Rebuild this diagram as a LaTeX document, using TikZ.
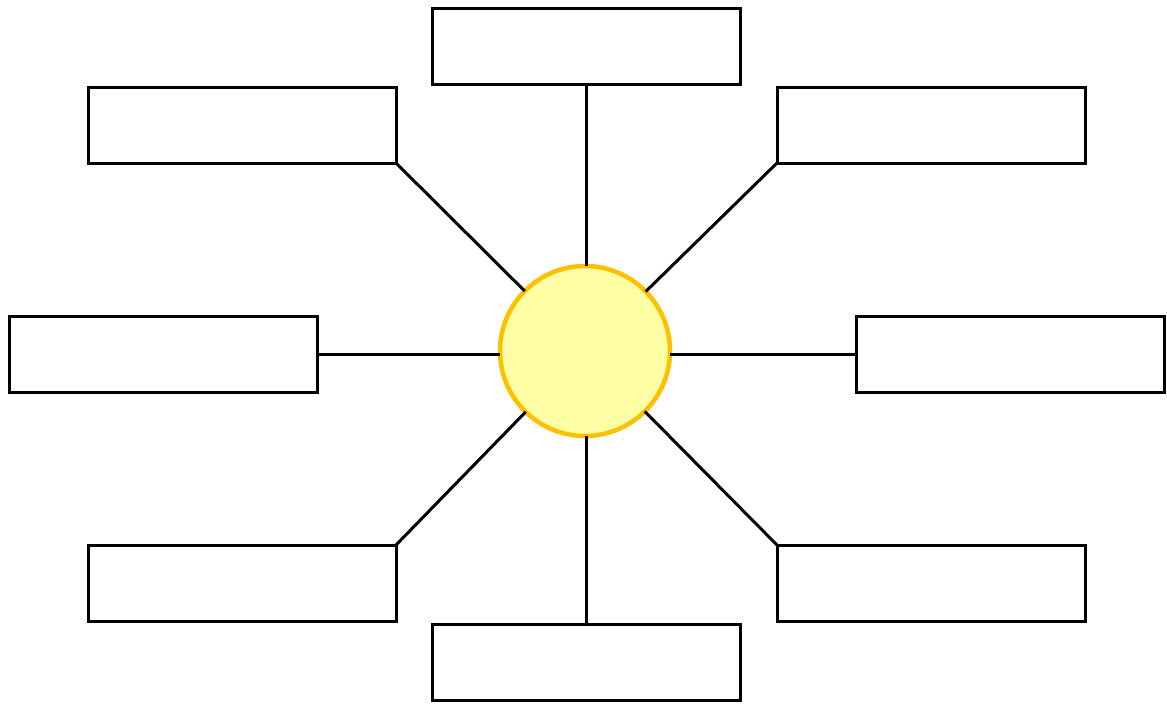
\documentclass[tikz,border=0pt]{standalone}
\definecolor{sunfill}{HTML}{FFFFA6}
\definecolor{sunedge}{HTML}{FFC000}
\tikzset{
  box/.style={draw=black, line width=3pt, fill=white, minimum width=308pt, minimum height=76pt, inner sep=0pt, outer sep=0pt},
  hub/.style={circle, draw=sunedge, fill=sunfill, line width=4.5pt, minimum size=170pt, inner sep=0pt, outer sep=0pt},
  link/.style={draw=black, line width=3pt}
}
\begin{document}
\begin{tikzpicture}[x=1pt,y=-1pt]
\useasboundingbox (0,0) rectangle (1167,707);
\node[box] (t)  at (586,46.5) {};
\node[box] (tl) at (242,125) {};
\node[box] (tr) at (931,125) {};
\node[box] (l)  at (163,354) {};
\node[box] (r)  at (1010,354) {};
\node[box] (bl) at (242,583) {};
\node[box] (br) at (931,583) {};
\node[box] (b)  at (586,662) {};
\node[hub] (c) at (585,351) {};
\draw[link] (t.south) -- (t.south |- c.north);
\draw[link] (b.north) -- (b.north |- c.south);
\draw[link] (l.east) -- (l.east -| c.west);
\draw[link] (r.west) -- (r.west -| c.east);
\draw[link] (tl.south east) -- (c);
\draw[link] (tr.south west) -- (c);
\draw[link] (bl.north east) -- (c);
\draw[link] (br.north west) -- (c);
\end{tikzpicture}
\end{document}
